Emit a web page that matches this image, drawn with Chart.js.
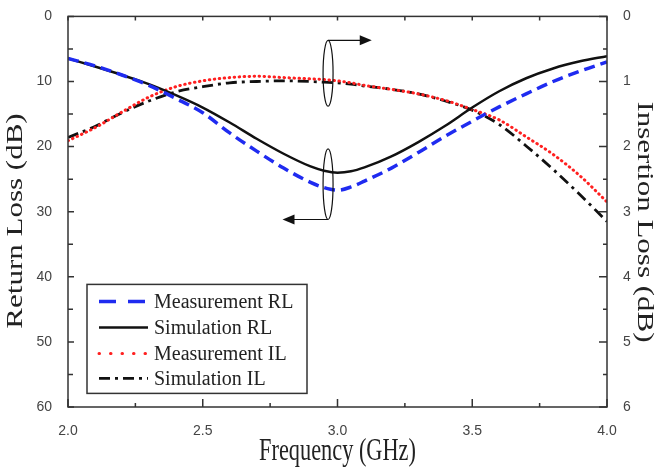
<!DOCTYPE html>
<html>
<head>
<meta charset="utf-8">
<script src="https://cdn.jsdelivr.net/npm/chart.js@4/dist/chart.umd.min.js"></script>
<style>
html, body { margin: 0; padding: 0; background: #fff; }
</style>
</head>
<body>
<canvas id="chart" width="662" height="468"></canvas>
<script>
// values
const freq   = [2.0, 2.1, 2.2, 2.3, 2.4, 2.5, 2.6, 2.7, 2.8, 2.9, 2.95, 3.0, 3.05, 3.1, 3.2, 3.3, 3.4, 3.5, 3.6, 3.7, 3.8, 3.9, 4.0];
const measRL = [6.45, 7.6, 9.0, 10.6, 12.6, 14.8, 17.9, 20.7, 23.3, 25.5, 26.3, 26.7, 26.2, 25.3, 23.3, 20.9, 18.4, 16.1, 13.9, 11.9, 10.0, 8.4, 7.0];
const simRL  = [6.45, 7.7, 9.0, 10.4, 12.1, 14.0, 16.3, 18.8, 21.1, 23.05, 23.7, 24.0, 23.8, 23.2, 21.5, 19.3, 16.8, 14.0, 11.5, 9.5, 8.0, 6.9, 6.1];
const measIL = [1.91, 1.71, 1.47, 1.24, 1.08, 0.99, 0.94, 0.92, 0.94, 0.96, 0.97, 0.99, 1.02, 1.06, 1.12, 1.19, 1.29, 1.43, 1.59, 1.85, 2.12, 2.45, 2.85];
const simIL  = [1.86, 1.69, 1.48, 1.30, 1.16, 1.08, 1.02, 1.00, 0.99, 1.00, 1.01, 1.02, 1.04, 1.07, 1.12, 1.19, 1.30, 1.44, 1.66, 1.99, 2.35, 2.74, 3.15];

const xTicks  = [2.0, 2.5, 3.0, 3.5, 4.0];
const rlTicks = [0, 10, 20, 30, 40, 50, 60];
const ilTicks = [0, 1, 2, 3, 4, 5, 6];

const toXY = vals => freq.map((f, i) => ({ x: f, y: vals[i] }));

const tickFont = { family: 'Liberation Sans', size: 14 };
const serif = 'Liberation Serif';

// frame, inward ticks, axis titles, legend and the two ellipse/arrow marks
const decor = {
  id: 'decor',
  afterDraw(chart) {
    const ctx = chart.ctx;
    const a = chart.chartArea;
    const sx = chart.scales.x, sy = chart.scales.y, sy1 = chart.scales.y1;
    ctx.save();

    // frame
    ctx.strokeStyle = '#333';
    ctx.lineWidth = 1.5;
    ctx.strokeRect(a.left, a.top, a.right - a.left, a.bottom - a.top);

    // ticks
    ctx.beginPath();
    for (let v = 2; v <= 4.001; v += 0.25) {
      const px = sx.getPixelForValue(v);
      const major = Math.abs(v * 2 - Math.round(v * 2)) < 1e-6;
      ctx.moveTo(px, a.bottom); ctx.lineTo(px, a.bottom - (major ? 8 : 4));
      ctx.moveTo(px, a.top); ctx.lineTo(px, a.top + 4);
    }
    for (let v = 0; v <= 60; v += 5) {
      const py = sy.getPixelForValue(v);
      ctx.moveTo(a.left, py); ctx.lineTo(a.left + (v % 10 === 0 ? 6 : 5), py);
    }
    for (let v = 0; v <= 6.001; v += 0.5) {
      const py = sy1.getPixelForValue(v);
      const major = Math.abs(v - Math.round(v)) < 1e-6;
      ctx.moveTo(a.right, py); ctx.lineTo(a.right - (major ? 8 : 4), py);
    }
    ctx.stroke();

    // axis titles (narrow serif, as in the original)
    ctx.fillStyle = '#222';
    ctx.font = '31px "' + serif + '"';
    ctx.textAlign = 'center';
    ctx.textBaseline = 'middle';
    ctx.save();
    ctx.translate((a.left + a.right) / 2, 452);
    ctx.scale(0.72, 1);
    ctx.fillText('Frequency (GHz)', 0, 0);
    ctx.restore();
    ctx.save();
    ctx.translate(16, 221);
    ctx.scale(0.72, 1);
    ctx.rotate(-Math.PI / 2);
    ctx.fillText('Return Loss (dB)', 0, 0);
    ctx.restore();
    ctx.save();
    ctx.translate(644, 222);
    ctx.scale(0.72, 1);
    ctx.rotate(Math.PI / 2);
    ctx.fillText('Insertion Loss (dB)', 0, 0);
    ctx.restore();

    // ellipses with arrows pointing to the axis each group belongs to
    ctx.strokeStyle = '#111';
    ctx.fillStyle = '#111';
    ctx.lineWidth = 1.2;
    const cx = sx.getPixelForValue(2.965);
    const marks = [
      { y0: 3.68, y1: 13.8, at: 3.68, tip: 3.127 },
      { y0: 20.35, y1: 31.2, at: 31.2, tip: 2.796 }
    ];
    marks.forEach(m => {
      const top = sy.getPixelForValue(m.y0), bot = sy.getPixelForValue(m.y1);
      ctx.beginPath();
      ctx.ellipse(cx, (top + bot) / 2, 5, (bot - top) / 2, 0, 0, Math.PI * 2);
      ctx.stroke();
      const ay = sy.getPixelForValue(m.at);
      const tx = sx.getPixelForValue(m.tip);
      const dir = tx > cx ? 1 : -1;
      ctx.beginPath();
      ctx.moveTo(cx, ay); ctx.lineTo(tx - dir * 10, ay);
      ctx.stroke();
      ctx.beginPath();
      ctx.moveTo(tx, ay);
      ctx.lineTo(tx - dir * 12, ay - 5);
      ctx.lineTo(tx - dir * 12, ay + 5);
      ctx.closePath();
      ctx.fill();
    });

    // legend
    const bx = a.left + 19, by = a.top + 268, bw = 220, bh = 109;
    ctx.fillStyle = '#fff';
    ctx.fillRect(bx, by, bw, bh);
    ctx.strokeStyle = '#333';
    ctx.lineWidth = 1.5;
    ctx.strokeRect(bx, by, bw, bh);
    const rows = [17, 43, 69, 94];
    ctx.font = '20px "' + serif + '"';
    ctx.textAlign = 'left';
    chart.data.datasets.forEach((ds, i) => {
      const ry = by + rows[i];
      ctx.save();
      ctx.strokeStyle = ds.borderColor;
      ctx.lineWidth = ds.borderWidth;
      ctx.lineCap = ds.borderCapStyle || 'butt';
      ctx.setLineDash(ds.legendDash || ds.borderDash || []);
      ctx.beginPath();
      ctx.moveTo(bx + 12, ry); ctx.lineTo(bx + 61, ry);
      ctx.stroke();
      ctx.restore();
      ctx.fillStyle = '#222';
      ctx.fillText(ds.label, bx + 67, ry + 1);
    });
    ctx.restore();
  }
};

new Chart(document.getElementById('chart'), {
  type: 'line',
  data: {
    datasets: [
      {
        label: 'Measurement RL',
        data: toXY(measRL),
        yAxisID: 'y',
        borderColor: '#1f2bf0',
        borderWidth: 3.5,
        borderDash: [11, 6],
        legendDash: [17, 12]
      },
      {
        label: 'Simulation RL',
        data: toXY(simRL),
        yAxisID: 'y',
        borderColor: '#111',
        borderWidth: 2.5
      },
      {
        label: 'Measurement IL',
        data: toXY(measIL),
        yAxisID: 'y1',
        borderColor: '#ff2020',
        borderWidth: 3,
        borderCapStyle: 'round',
        borderDash: [0.5, 4.5],
        legendDash: [0.5, 11]
      },
      {
        label: 'Simulation IL',
        data: toXY(simIL),
        yAxisID: 'y1',
        borderColor: '#111',
        borderWidth: 2.8,
        borderDash: [11, 5, 3, 5]
      }
    ]
  },
  options: {
    responsive: false,
    animation: false,
    devicePixelRatio: 1,
    layout: { padding: { top: 11, left: 0, right: 0, bottom: 0 } },
    elements: {
      point: { radius: 0 },
      line: { cubicInterpolationMode: 'monotone', fill: false }
    },
    plugins: {
      legend: { display: false },
      tooltip: { enabled: false }
    },
    scales: {
      x: {
        type: 'linear',
        min: 2,
        max: 4,
        afterBuildTicks: s => { s.ticks = xTicks.map(v => ({ value: v })); },
        afterFit: s => { s.height = 61; },
        ticks: { callback: v => v.toFixed(1), color: '#444', font: tickFont, padding: 8, maxRotation: 0 },
        grid: { display: false },
        border: { display: false }
      },
      y: {
        position: 'left',
        reverse: true,
        min: 0,
        max: 60,
        afterBuildTicks: s => { s.ticks = rlTicks.map(v => ({ value: v })); },
        afterFit: s => { s.width = 68; },
        ticks: { color: '#444', font: tickFont, padding: 8 },
        grid: { display: false },
        border: { display: false }
      },
      y1: {
        position: 'right',
        reverse: true,
        min: 0,
        max: 6,
        afterBuildTicks: s => { s.ticks = ilTicks.map(v => ({ value: v })); },
        afterFit: s => { s.width = 55; },
        ticks: { color: '#444', font: tickFont, padding: 8 },
        grid: { display: false },
        border: { display: false }
      }
    }
  },
  plugins: [decor]
});
</script>
</body>
</html>
